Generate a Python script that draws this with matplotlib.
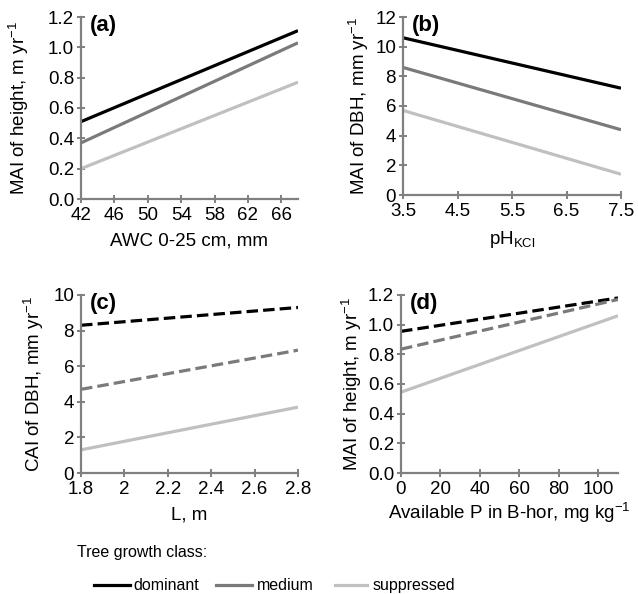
import matplotlib
matplotlib.use("Agg")
import matplotlib.pyplot as plt
from matplotlib.lines import Line2D

plt.rcParams['font.family'] = ['Liberation Sans', 'DejaVu Sans']
plt.rcParams['mathtext.fontset'] = 'custom'
plt.rcParams['mathtext.rm'] = 'Liberation Sans'
plt.rcParams['mathtext.it'] = 'Liberation Sans'

classes = ["dominant", "medium", "suppressed"]
colors = ["#000000", "#7a7a7a", "#c0c0c0"]

# Panel (a): AWC vs MAI of height
a_x = [42, 68]
a_y = {"dominant": [0.51, 1.11], "medium": [0.37, 1.03], "suppressed": [0.20, 0.77]}
# Panel (b): pH vs MAI of DBH
b_x = [3.5, 7.5]
b_y = {"dominant": [10.6, 7.2], "medium": [8.6, 4.4], "suppressed": [5.7, 1.4]}
# Panel (c): L vs CAI of DBH
c_x = [1.8, 2.8]
c_y = {"dominant": [8.3, 9.3], "medium": [4.7, 6.9], "suppressed": [1.3, 3.7]}
# Panel (d): Available P vs MAI of height
d_x = [0, 110]
d_y = {"dominant": [0.955, 1.18], "medium": [0.835, 1.17], "suppressed": [0.545, 1.06]}

dashed_c = {"dominant": True, "medium": True, "suppressed": False}

fig = plt.figure(figsize=(6.38, 5.94), dpi=100)
W, H = 638, 594

def ax_at(l, r, t, b):
    return fig.add_axes([l / W, 1 - b / H, (r - l) / W, (b - t) / H])

axes = [ax_at(81, 298, 17, 199), ax_at(403, 621, 17, 195),
        ax_at(81, 298, 295, 473), ax_at(401, 618, 295, 473)]

specs = [
    (a_x, a_y, {}, (42, 68), list(range(42, 67, 4)), (0, 1.2), [0, 0.2, 0.4, 0.6, 0.8, 1.0, 1.2], "%.1f",
     "AWC 0-25 cm, mm", "MAI of height, m yr$^{-1}$", "(a)", 6, 12),
    (b_x, b_y, {}, (3.5, 7.5), [3.5, 4.5, 5.5, 6.5, 7.5], (0, 12), [0, 2, 4, 6, 8, 10, 12], "%d",
     "pH$_{\\mathregular{KCl}}$", "MAI of DBH, mm yr$^{-1}$", "(b)", 6, 3),
    (c_x, c_y, dashed_c, (1.8, 2.8), [1.8, 2.0, 2.2, 2.4, 2.6, 2.8], (0, 10), [0, 2, 4, 6, 8, 10], "%d",
     "L, m", "CAI of DBH, mm yr$^{-1}$", "(c)", 6, 5),
    (d_x, d_y, dashed_c, (0, 110), [0, 20, 40, 60, 80, 100], (0, 1.2), [0, 0.2, 0.4, 0.6, 0.8, 1.0, 1.2], "%.1f",
     "Available P in B-hor, mg kg$^{-1}$", "MAI of height, m yr$^{-1}$", "(d)", 2, 3),
]

fs = 13.5
axis_col = "#808080"
for ax, (xs, ys, dash, xl, xt, yl, yt, yfmt, xlab, ylab, tag, xlp, ylp) in zip(axes, specs):
    for cl, col in zip(classes, colors):
        if dash.get(cl, False):
            ax.plot(xs, ys[cl], color=col, lw=2.3, dashes=(3.6, 1.6), solid_capstyle='butt')
        else:
            ax.plot(xs, ys[cl], color=col, lw=2.3, solid_capstyle='butt')
    ax.set_xlim(*xl)
    ax.set_ylim(*yl)
    ax.set_xticks(xt)
    ax.set_yticks(yt)
    if tag == "(c)":
        ax.set_xticklabels(["1.8", "2", "2.2", "2.4", "2.6", "2.8"])
    ax.yaxis.set_major_formatter(matplotlib.ticker.FormatStrFormatter(yfmt))
    for s in ["top", "right"]:
        ax.spines[s].set_visible(False)
    for s in ["left", "bottom"]:
        ax.spines[s].set_color(axis_col)
        ax.spines[s].set_linewidth(1.6)
    ax.tick_params(axis='both', direction='inout', length=6, width=1.4, color=axis_col,
                   labelsize=fs)
    ax.tick_params(axis='x', pad=3)
    ax.tick_params(axis='y', pad=2)
    ax.set_xlabel(xlab, fontsize=fs, labelpad=xlp)
    ax.set_ylabel(ylab, fontsize=fs, labelpad=ylp)
    ax.text(0.04, 0.955, tag, transform=ax.transAxes, fontsize=16, fontweight='bold',
            va='center', ha='left')

lfs = 11.5
fig.text(77 / W, 1 - 553 / H, "Tree growth class:", fontsize=lfs, va='center', ha='left')
leg_x = [(94, 130, 133), (216, 252, 257), (335, 367, 373)]
ly = 1 - 585 / H
for (x0, x1, xt_), cl, col in zip(leg_x, classes, colors):
    fig.add_artist(Line2D([x0 / W, x1 / W], [ly, ly], color=col, lw=2.3, transform=fig.transFigure))
    fig.text(xt_ / W, 1 - 590 / H, cl, fontsize=lfs, va='baseline', ha='left')

fig.savefig("out.png", dpi=100)
